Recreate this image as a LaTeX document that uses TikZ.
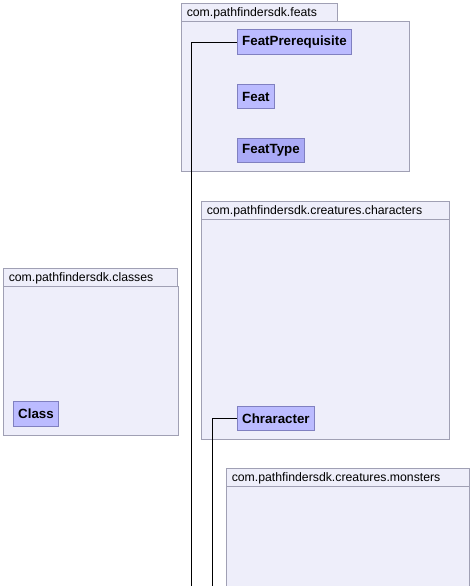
\documentclass[tikz,border=0pt]{standalone}
\usepackage{fontspec}
\setmainfont{Liberation Sans}
\usepackage{tikz}
\usetikzlibrary{calc}

\definecolor{pkgfill}{HTML}{EEEEFA}
\definecolor{pkgline}{HTML}{A0A0B4}
\definecolor{clsfill}{HTML}{BBBBFF}
\definecolor{enumfill}{HTML}{AAAAF6}
\definecolor{clsline}{HTML}{8080C0}

\tikzset{
  pkgframe/.style={draw=pkgline, fill=pkgfill, line width=0.75pt},
  pkglabel/.style={anchor=west, inner sep=0pt, font=\fontsize{9.2pt}{11pt}\selectfont},
  cls/.style={draw=clsline, fill=clsfill, line width=0.75pt, anchor=west, inner xsep=3.9pt,
    minimum height=18.5pt, font=\fontsize{10pt}{12pt}\selectfont\bfseries},
  enumcls/.style={cls, fill=enumfill},
  link/.style={draw=black, line width=0.75pt}
}

% #1 name, #2 x, #3 y, #4 tab width, #5 width, #6 height, #7 text
\newcommand{\pkgbox}[7]{
  \draw[pkgframe] (#2,#3) rectangle (#2+#4,#3+18);
  \draw[pkgframe] (#2,#3+18) rectangle (#2+#5,#3+#6);
  \node[pkglabel] (#1) at (#2+5,#3+9.5) {#7};
}

\begin{document}
\begin{tikzpicture}[x=0.75pt, y=-0.75pt]
			\useasboundingbox (0,0) rectangle (471,586);
			\clip (0,0) rectangle (471,586);
			\fill[white] (0,0) rectangle (471,586);
			
			\pkgbox{feats}{181.5}{3.5}{156}{227.5}{167.5}{com.pathfindersdk.feats}
			\pkgbox{characters}{201.5}{201.5}{247.5}{247.5}{238}{com.pathfindersdk.creatures.characters}
			\pkgbox{classes}{3.5}{268.5}{174}{174.5}{166.5}{com.pathfindersdk.classes}
			\pkgbox{monsters}{226.5}{468.5}{242.5}{242.5}{200}{com.pathfindersdk.creatures.monsters}
			
			\node (FeatPrerequisite) [cls] at (236.5,42){FeatPrerequisite};
			\node (Feat) [cls] at (236.5,96.5){Feat};
			\node (FeatType) [enumcls] at (236.5,150.5){FeatType};
			\node (Chraracter) [cls] at (236.5,418.5){Chraracter};
			\node (Class) [cls] at (12.5,414){Class};
			
			\coordinate (fpEnd) at (191.5,590);
			\coordinate (chEnd) at (212.5,590);
			\draw[link] (FeatPrerequisite.west) -| (fpEnd);
			\draw[link] (Chraracter.west) -| (chEnd);
		\end{tikzpicture}
\end{document}
